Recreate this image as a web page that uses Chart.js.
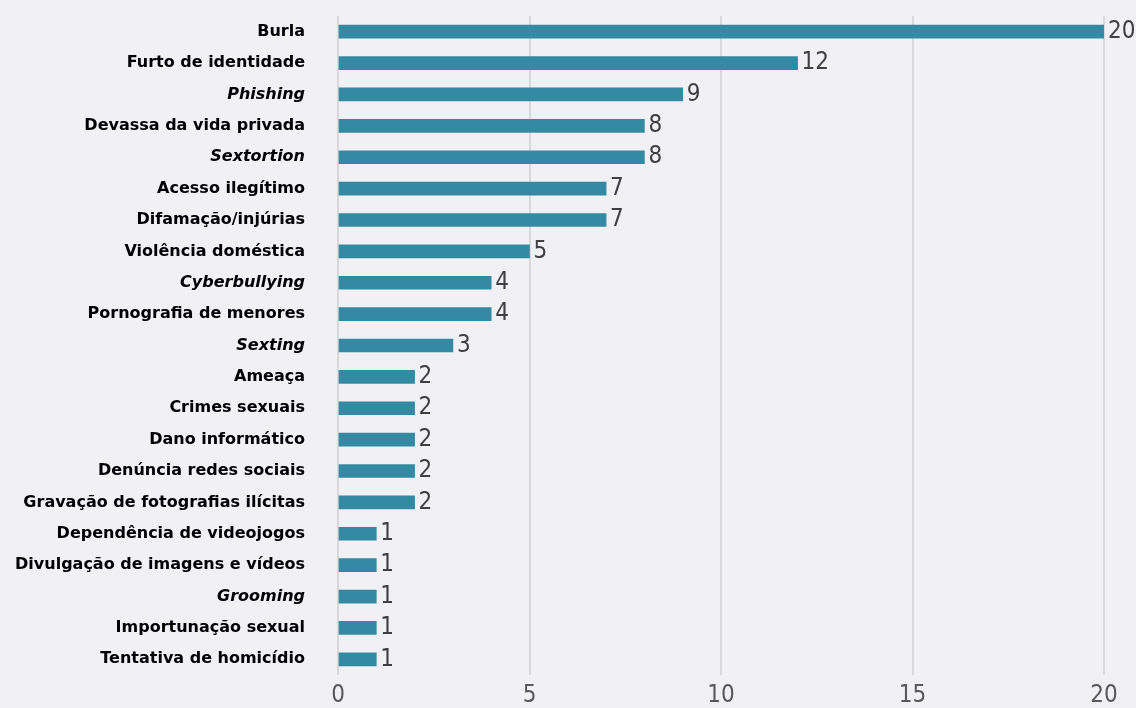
<!DOCTYPE html>
<html>
<head>
<meta charset="utf-8">
<script src="https://cdn.jsdelivr.net/npm/chart.js@4"></script>
<style>
  body { margin: 0; background: #f1f0f5; }
  #wrap { width: 1136px; height: 708px; }
</style>
</head>
<body>
<div id="wrap"><canvas id="myChart" width="1136" height="708"></canvas></div>
<script>
var categories = [
    'Burla', 'Furto de identidade', 'Phishing', 'Devassa da vida privada', 'Sextortion',
    'Acesso ilegítimo', 'Difamação/injúrias', 'Violência doméstica', 'Cyberbullying',
    'Pornografia de menores', 'Sexting', 'Ameaça', 'Crimes sexuais', 'Dano informático',
    'Denúncia redes sociais', 'Gravação de fotografias ilícitas', 'Dependência de videojogos',
    'Divulgação de imagens e vídeos', 'Grooming', 'Importunação sexual', 'Tentativa de homicídio'
];
var values = [20, 12, 9, 8, 8, 7, 7, 5, 4, 4, 3, 2, 2, 2, 2, 2, 1, 1, 1, 1, 1];
var italicCategories = ['Phishing', 'Sextortion', 'Cyberbullying', 'Sexting', 'Grooming'];
var xMin = 0, xMax = 20, xStep = 5;

var narrowFont = '"Liberation Sans Narrow", "DejaVu Sans Condensed", "Liberation Sans", sans-serif';

// draw the numbers at the end of each bar
const valueLabels = {
    id: 'valueLabels',
    afterDatasetsDraw(chart) {
        const ctx = chart.ctx;
        const meta = chart.getDatasetMeta(0);
        ctx.save();
        ctx.font = '24px ' + narrowFont;
        ctx.fillStyle = '#404040';
        ctx.textAlign = 'left';
        ctx.textBaseline = 'middle';
        meta.data.forEach(function (bar, i) {
            ctx.fillText(String(values[i]), bar.x + 4, bar.y);
        });
        ctx.restore();
    }
};

const background = {
    id: 'background',
    beforeDraw(chart) {
        const ctx = chart.ctx;
        ctx.save();
        ctx.fillStyle = '#f1f0f5';
        ctx.fillRect(0, 0, chart.width, chart.height);
        ctx.restore();
    }
};

const ctx = document.getElementById('myChart');

new Chart(ctx, {
    type: 'bar',
    data: {
        labels: categories,
        datasets: [{
            data: values,
            backgroundColor: '#358aa3',
            barThickness: 13
        }]
    },
    options: {
        indexAxis: 'y',
        responsive: false,
        animation: false,
        layout: { padding: { top: 16, right: 32, bottom: 0, left: 0 } },
        plugins: {
            legend: { display: false },
            tooltip: { enabled: false }
        },
        scales: {
            x: {
                min: xMin,
                max: xMax,
                grid: { color: '#d9d9d9', lineWidth: 2, drawTicks: false },
                border: { display: false },
                ticks: {
                    stepSize: xStep,
                    padding: 6,
                    color: '#595959',
                    font: { family: narrowFont, size: 24 }
                },
                afterFit(scale) { scale.height = 33; }
            },
            y: {
                grid: { display: false, drawTicks: true, tickLength: 33 },
                border: { display: false },
                ticks: {
                    padding: 0,
                    color: '#000000',
                    autoSkip: false,
                    font: function (c) {
                        var lbl = categories[c.index];
                        return {
                            family: '"DejaVu Sans", sans-serif',
                            size: 16,
                            weight: 'bold',
                            style: italicCategories.indexOf(lbl) >= 0 ? 'italic' : 'normal'
                        };
                    }
                },
                afterFit(scale) { scale.width = 338; }
            }
        }
    },
    plugins: [background, valueLabels]
});
</script>
</body>
</html>
